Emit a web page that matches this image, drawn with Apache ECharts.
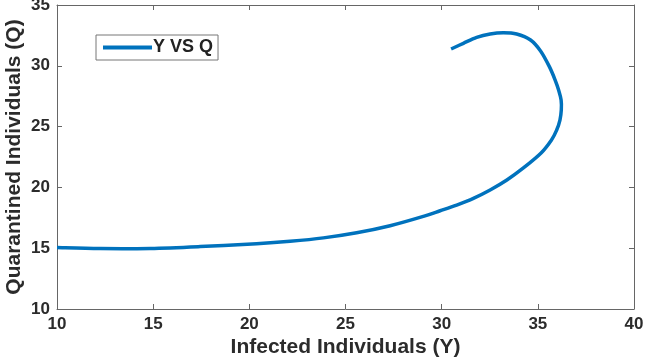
<!DOCTYPE html>
<html>
<head>
<meta charset="utf-8">
<script src="https://cdn.jsdelivr.net/npm/echarts@6/dist/echarts.min.js"></script>
<style>
  html, body { margin: 0; padding: 0; background: #fff; }
  #chart { width: 645px; height: 361px; }
</style>
</head>
<body>
<div id="chart"></div>
<script>
// trajectory, in order along the curve
var infectedY = [30.49, 31.13, 31.82, 32.52, 33.21, 33.9, 34.62, 35.15, 35.6, 35.9, 36.08, 36.21, 36.22, 36.15, 35.98, 35.71, 35.17, 34.25, 33.39, 32.52, 31.65, 30.78, 29.92, 29.05, 27.32, 25.58, 23.85, 22.12, 20.38, 17.44, 14.84, 12.24, 10.0];
var quarantinedQ = [31.38, 31.85, 32.34, 32.62, 32.72, 32.62, 32.12, 31.2, 29.93, 28.83, 28.01, 27.19, 26.37, 25.54, 24.72, 23.9, 22.83, 21.6, 20.61, 19.79, 19.1, 18.55, 18.08, 17.62, 16.85, 16.27, 15.85, 15.57, 15.37, 15.13, 14.98, 14.97, 15.06];
var seriesName = 'Y VS Q';
var lineColor = '#0072BD';

var points = infectedY.map(function (v, i) { return [v, quarantinedQ[i]]; });

// one smooth path through all points (catmull-rom), positioned by the axes
function renderCurve(params, api) {
  if (params.dataIndex !== 0) return null;
  var p = points.map(function (d) { return api.coord(d); });
  var d = 'M' + p[0][0] + ' ' + p[0][1];
  for (var i = 0; i < p.length - 1; i++) {
    var p0 = p[i - 1] || p[i], p1 = p[i], p2 = p[i + 1], p3 = p[i + 2] || p[i + 1];
    var c1x = p1[0] + (p2[0] - p0[0]) / 6, c1y = p1[1] + (p2[1] - p0[1]) / 6;
    var c2x = p2[0] - (p3[0] - p1[0]) / 6, c2y = p2[1] - (p3[1] - p1[1]) / 6;
    d += ' C' + c1x + ' ' + c1y + ' ' + c2x + ' ' + c2y + ' ' + p2[0] + ' ' + p2[1];
  }
  return {
    type: 'path',
    shape: { pathData: d },
    style: { fill: 'none', stroke: lineColor, lineWidth: 3.5, lineJoin: 'round', lineCap: 'butt' }
  };
}

var chart = echarts.init(document.getElementById('chart'));
var labelFont = { fontFamily: 'Liberation Sans', fontWeight: 'bold', fontSize: 17, color: '#2b2b2b' };
var nameFont = { fontFamily: 'Liberation Sans', fontWeight: 'bold', fontSize: 21, color: '#2b2b2b' };
var frameLine = { show: true, lineStyle: { color: '#666', width: 1 } };
var tick = { show: true, inside: true, length: 5, lineStyle: { color: '#666' } };

option = {
  animation: false,
  grid: { left: 57, right: 11, top: 5, bottom: 52, containLabel: false, outerBoundsMode: 'none' },
  legend: {
    data: [{ name: seriesName, icon: 'rect', itemStyle: { color: lineColor } }],
    left: 96, top: 35,
    orient: 'vertical',
    padding: [3, 5, 3, 7],
    borderColor: '#777', borderWidth: 1,
    itemWidth: 49, itemHeight: 4, itemGap: 0,
    textStyle: { fontFamily: 'Liberation Sans', fontWeight: 'bold', fontSize: 18, lineHeight: 19, color: '#222', padding: [0, 0, 0, -4] }
  },
  xAxis: [{
    type: 'value', min: 10, max: 40, interval: 5,
    name: 'Infected Individuals (Y)', nameLocation: 'middle', nameGap: 28, nameMoveOverlap: false,
    nameTextStyle: nameFont,
    axisLine: frameLine, axisTick: tick, splitLine: { show: false },
    axisLabel: Object.assign({ margin: 7 }, labelFont)
  }, {
    type: 'value', min: 10, max: 40, interval: 5, position: 'top',
    axisLine: frameLine, axisTick: tick, splitLine: { show: false },
    axisLabel: { show: false }
  }],
  yAxis: [{
    type: 'value', min: 10, max: 35, interval: 5,
    name: 'Quarantined Individuals (Q)', nameLocation: 'middle', nameGap: 32, nameMoveOverlap: false,
    nameTextStyle: nameFont,
    axisLine: frameLine, axisTick: tick, splitLine: { show: false },
    axisLabel: Object.assign({ margin: 7 }, labelFont)
  }, {
    type: 'value', min: 10, max: 35, interval: 5, position: 'right',
    axisLine: frameLine, axisTick: tick, splitLine: { show: false },
    axisLabel: { show: false }
  }],
  series: [{
    name: seriesName,
    type: 'custom',
    renderItem: renderCurve,
    data: points,
    encode: { x: 0, y: 1 },
    itemStyle: { color: lineColor }
  }]
};
chart.setOption(option);
</script>
</body>
</html>
